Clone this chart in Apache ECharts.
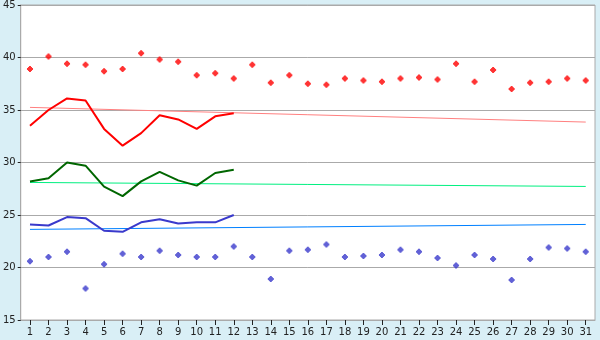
<!DOCTYPE html>
<html>
<head>
<meta charset="utf-8">
<script src="https://cdn.jsdelivr.net/npm/echarts@6/dist/echarts.min.js"></script>
<style>
html,body{margin:0;padding:0;background:#d9eff6;}
#c{width:600px;height:340px;}
</style>
</head>
<body>
<div id="c"></div>
<script>
var days = ['1','2','3','4','5','6','7','8','9','10','11','12','13','14','15','16','17','18','19','20','21','22','23','24','25','26','27','28','29','30','31'];
var recordHigh = [38.9,40.1,39.4,39.3,38.7,38.9,40.4,39.8,39.6,38.3,38.5,38.0,39.3,37.6,38.3,37.5,37.4,38.0,37.8,37.7,38.0,38.1,37.9,39.4,37.7,38.8,37.0,37.6,37.7,38.0,37.8];
var recordLow = [20.6,21.0,21.5,18.0,20.3,21.3,21.0,21.6,21.2,21.0,21.0,22.0,21.0,18.9,21.6,21.7,22.2,21.0,21.1,21.2,21.7,21.5,20.9,20.2,21.2,20.8,18.8,20.8,21.9,21.8,21.5];
var dailyHigh = [33.5,35.0,36.1,35.9,33.2,31.6,32.8,34.5,34.1,33.2,34.4,34.7];
var dailyMean = [28.2,28.5,30.0,29.7,27.7,26.8,28.2,29.1,28.3,27.8,29.0,29.3];
var dailyLow = [24.1,24.0,24.8,24.7,23.5,23.4,24.3,24.6,24.2,24.3,24.3,25.0];
var normalHighEnds = [35.25, 33.85];
var normalMeanEnds = [28.1, 27.72];
var normalLowEnds = [23.63, 24.1];
var yTicks = [15, 20, 25, 30, 35, 40, 45];

function ends(arr){ return [[0, arr[0]], [days.length - 1, arr[1]]]; }
var plus = 'path://M2,0H4V1H5V2H6V4H5V5H4V6H2V5H1V4H0V2H1V1H2Z';
var font = 'DejaVu Sans';

var chart = echarts.init(document.getElementById('c'), null, {renderer:'canvas'});
chart.setOption({
  animation: false,
  backgroundColor: '#d9eff6',
  grid: {left:20, right:5, top:5, bottom:20, show:true, backgroundColor:'#ffffff', borderColor:'#aaaaaa', borderWidth:1},
  xAxis: {
    type:'category', data:days, boundaryGap:true,
    axisLine:{show:true, lineStyle:{color:'#aaaaaa'}},
    axisTick:{show:true, alignWithLabel:true, length:5, lineStyle:{color:'#222222'}},
    axisLabel:{interval:0, margin:7, fontSize:10, fontFamily:font, color:'#222222'},
    splitLine:{show:false}
  },
  yAxis: {
    type:'value', min:yTicks[0], max:yTicks[yTicks.length-1], interval:5,
    axisLine:{show:true, lineStyle:{color:'#aaaaaa'}},
    axisTick:{show:true, length:3, lineStyle:{color:'#222222'}},
    axisLabel:{margin:5, fontSize:10, fontFamily:font, color:'#222222'},
    splitLine:{show:true, lineStyle:{color:'#aaaaaa', width:1}}
  },
  series: [
    {type:'line', data:ends(normalHighEnds), symbol:'none', lineStyle:{color:'#ff8080', width:1}},
    {type:'line', data:ends(normalMeanEnds), symbol:'none', lineStyle:{color:'#00f080', width:1}},
    {type:'line', data:ends(normalLowEnds), symbol:'none', lineStyle:{color:'#0080ff', width:1}},
    {type:'line', data:dailyHigh, symbol:'none', lineStyle:{color:'#ff0000', width:2}},
    {type:'line', data:dailyMean, symbol:'none', lineStyle:{color:'#006600', width:2}},
    {type:'line', data:dailyLow, symbol:'none', lineStyle:{color:'#3a3acc', width:2}},
    {type:'scatter', data:recordHigh, symbol:plus, symbolSize:6, itemStyle:{color:'#ff0000'}},
    {type:'scatter', data:recordLow, symbol:plus, symbolSize:6, itemStyle:{color:'#3a3acc'}}
  ]
});
</script>
</body>
</html>
